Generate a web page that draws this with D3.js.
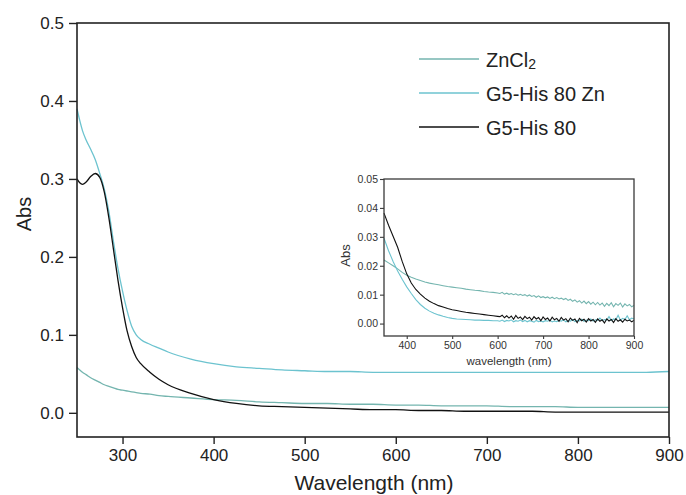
<!DOCTYPE html>
<html>
<head>
<meta charset="utf-8">
<script src="https://cdn.jsdelivr.net/npm/d3@7"></script>
<style>
  body { margin: 0; background: #fff; }
  svg { display: block; font-family: "Liberation Sans", Arial, sans-serif; }
</style>
</head>
<body>
<svg id="chart" width="686" height="495"></svg>
<script>
// colours
const C_ZNCL2 = "#74b5af";
const C_ZN = "#6cc3cf";
const C_HIS = "#111111";

// MAIN PLOT DATA
const mainWl = [250,253,256,260,265,270,275,280,285,290,295,300,305,310,315,320,330,340,350,375,
  400,425,450,475,500,525,550,575,600,625,650,675,700,725,750,775,800,825,850,875,900];
const mainZnCl2 = [.058,.055,.052,.049,.045,.042,.039,.036,.034,.032,.030,.029,.028,.027,.026,.025,.024,.022,.021,.019,
  .017,.016,.014,.013,.012,.012,.011,.011,.010,.010,.009,.009,.009,.008,.008,.008,.007,.007,.007,.007,.007];
const mainZn = [.390,.375,.362,.350,.338,.325,.307,.287,.258,.220,.185,.156,.131,.111,.100,.094,.088,.083,.078,.069,
  .063,.059,.057,.055,.054,.053,.053,.052,.052,.052,.052,.052,.052,.052,.052,.052,.052,.052,.052,.052,.053];
const mainHis = [.300,.295,.293,.296,.303,.307,.302,.283,.250,.210,.170,.135,.105,.085,.071,.063,.052,.043,.036,.025,
  .017,.012,.009,.008,.007,.006,.005,.004,.004,.003,.003,.002,.002,.002,.002,.001,.001,.001,.001,.001,.001];

const xTicks = [300,400,500,600,700,800,900];
const yTicks = [0.0,0.1,0.2,0.3,0.4,0.5];

// INSET DATA
const insetWl = [350,360,370,380,390,400,410,420,430,440,450,460,470,480,490,500,510,520,530,540,550,560,570,580,590,600,
  605,610,615,620,625,630,635,640,645,650,
  655,660,665,670,675,680,685,690,695,700,
  705,710,715,720,725,730,735,740,745,750,
  755,760,765,770,775,780,785,790,795,800,
  805,810,815,820,825,830,835,840,845,850,
  855,860,865,870,875,880,885,890,895,900];
const insetZnCl2 = [.0220,.0210,.0200,.0189,.0177,.0167,.0160,.0154,.0149,.0144,.0140,.0137,.0134,.0131,.0128,.0126,
  .0124,.0122,.0119,.0117,.0115,.0114,.0111,.0109,.0108,.0106,
  .0104,.0108,.0102,.0105,.0101,.0104,.0100,.0103,.0098,.0101,
  .0097,.0100,.0095,.0099,.0094,.0097,.0091,.0096,.0090,.0093,
  .0089,.0092,.0087,.0091,.0086,.0090,.0085,.0088,.0083,.0087,
  .0080,.0084,.0077,.0082,.0074,.0079,.0071,.0078,.0069,.0076,
  .0067,.0074,.0065,.0073,.0064,.0071,.0060,.0070,.0062,.0072,
  .0058,.0069,.0063,.0071,.0057,.0068,.0061,.0066,.0058,.0063];
const insetZn = [.0295,.0252,.0215,.0182,.0153,.0127,.0104,.0083,.0066,.0053,.0043,.0036,.0030,.0025,.0021,.0018,
  .0016,.0015,.0014,.0013,.0012,.0012,.0011,.0011,.0010,.0010,
  .0008,.0012,.0007,.0011,.0009,.0013,.0006,.0010,.0008,.0012,
  .0007,.0011,.0006,.0010,.0008,.0005,.0011,.0007,.0009,.0006,
  .0010,.0008,.0012,.0006,.0009,.0007,.0011,.0008,.0013,.0006,
  .0010,.0008,.0014,.0007,.0011,.0009,.0015,.0008,.0012,.0010,
  .0016,.0009,.0013,.0011,.0019,.0010,.0014,.0012,.0024,.0011,
  .0016,.0013,.0029,.0012,.0018,.0014,.0027,.0013,.0019,.0016];
const insetHis = [.0382,.0340,.0302,.0264,.0215,.0172,.0140,.0118,.0102,.0088,.0077,.0069,.0062,.0057,.0052,.0048,
  .0045,.0042,.0039,.0037,.0035,.0033,.0031,.0029,.0027,.0025,
  .0024,.0029,.0020,.0027,.0019,.0026,.0015,.0028,.0018,.0023,
  .0014,.0025,.0017,.0022,.0012,.0024,.0016,.0021,.0010,.0023,
  .0014,.0019,.0009,.0022,.0013,.0018,.0008,.0021,.0012,.0017,
  .0006,.0019,.0011,.0016,.0003,.0018,.0010,.0015,.0005,.0017,
  .0009,.0014,.0004,.0016,.0008,.0013,.0002,.0016,.0009,.0014,
  .0004,.0017,.0008,.0013,.0005,.0015,.0009,.0012,.0006,.0011];

const insetXTicks = [400,500,600,700,800,900];
const insetYTicks = [0.00,0.01,0.02,0.03,0.04,0.05];

const legendNames = ["ZnCl", "G5-His 80 Zn", "G5-His 80"];
const legendColors = [C_ZNCL2, C_ZN, C_HIS];

let svg = d3.select("#chart");

// MAIN
let m = {left: 77, right: 669, top: 23, bottom: 437};
let x = d3.scaleLinear().domain([250, 900]).range([m.left, m.right]);
let y = d3.scaleLinear().domain([-0.031, 0.5]).range([m.bottom, m.top]);

function toPts(wl, vals) {
	return wl.map((w,i)=>[w, vals[i]]).filter(d=>d[1]!=undefined);
}

let mainLine = d3.line().x(d=>x(d[0])).y(d=>y(d[1])).curve(d3.curveMonotoneX);

let plot = svg.append("g");
[[mainZnCl2, C_ZNCL2], [mainZn, C_ZN], [mainHis, C_HIS]].forEach(s=>{
	plot.append("path")
	.datum(toPts(mainWl, s[0]))
	.attr("d", mainLine)
	.attr("fill", "none")
	.attr("stroke", s[1])
	.attr("stroke-width", 1.3);
});

// frame
svg.append("rect")
.attr("x", m.left).attr("y", m.top)
.attr("width", m.right-m.left).attr("height", m.bottom-m.top)
.attr("fill", "none").attr("stroke", "#222").attr("stroke-width", 1.6);

let xAxis = svg.append("g")
.attr("transform", `translate(0,${m.bottom})`)
.call(d3.axisBottom(x).tickValues(xTicks).tickSize(7).tickPadding(5).tickFormat(d3.format("d")));

let yAxis = svg.append("g")
.attr("transform", `translate(${m.left},0)`)
.call(d3.axisLeft(y).tickValues(yTicks).tickSize(8).tickPadding(5).tickFormat(d3.format(".1f")));

[xAxis, yAxis].forEach(a=>{
	a.select(".domain").remove();
	a.selectAll("line").attr("stroke", "#222").attr("stroke-width", 1.4);
	a.selectAll("text").attr("font-size", 17).attr("fill", "#222").attr("font-family", "Liberation Sans, Arial, sans-serif");
});

svg.append("text")
.attr("x", (m.left+m.right)/2 + 1).attr("y", 490)
.attr("text-anchor", "middle")
.attr("font-size", 21).attr("fill", "#222")
.text("Wavelength (nm)");

svg.append("text")
.attr("transform", "translate(31,214) rotate(-90)")
.attr("text-anchor", "middle")
.attr("font-size", 20).attr("fill", "#222")
.text("Abs");

// LEGEND
let legend = svg.append("g");
legendNames.forEach((name,i)=>{
	let ly = 59 + i*34;
	legend.append("line")
	.attr("x1", 419).attr("x2", 479)
	.attr("y1", ly).attr("y2", ly)
	.attr("stroke", legendColors[i]).attr("stroke-width", 1.3);
	let t = legend.append("text")
	.attr("x", 486).attr("y", ly+8)
	.attr("font-size", 20).attr("fill", "#222")
	.text(name);
	if(i==0) {
		t.append("tspan").attr("font-size", 14).attr("dy", 2).text("2");
	}
});

// INSET
let n = {left: 384, right: 634, top: 179, bottom: 336};
let ix = d3.scaleLinear().domain([350, 900]).range([n.left, n.right]);
let iy = d3.scaleLinear().domain([-0.0043, 0.05]).range([n.bottom, n.top]);
let insetLine = d3.line().x(d=>ix(d[0])).y(d=>iy(d[1]));

let inset = svg.append("g");
[[insetZnCl2, C_ZNCL2], [insetZn, C_ZN], [insetHis, C_HIS]].forEach(s=>{
	inset.append("path")
	.datum(toPts(insetWl, s[0]))
	.attr("d", insetLine)
	.attr("fill", "none")
	.attr("stroke", s[1])
	.attr("stroke-width", 1.1);
});

svg.append("rect")
.attr("x", n.left).attr("y", n.top)
.attr("width", n.right-n.left).attr("height", n.bottom-n.top)
.attr("fill", "none").attr("stroke", "#3a3a3a").attr("stroke-width", 1.3);

let ixAxis = svg.append("g")
.attr("transform", `translate(0,${n.bottom})`)
.call(d3.axisBottom(ix).tickValues(insetXTicks).tickSize(3).tickPadding(3).tickFormat(d3.format("d")));

let iyAxis = svg.append("g")
.attr("transform", `translate(${n.left},0)`)
.call(d3.axisLeft(iy).tickValues(insetYTicks).tickSize(4).tickPadding(2).tickFormat(d3.format(".2f")));

[ixAxis, iyAxis].forEach(a=>{
	a.select(".domain").remove();
	a.selectAll("line").attr("stroke", "#3a3a3a").attr("stroke-width", 1.1);
	a.selectAll("text").attr("font-size", 10.5).attr("fill", "#333").attr("font-family", "Liberation Sans, Arial, sans-serif");
});

svg.append("text")
.attr("x", (n.left+n.right)/2).attr("y", 365)
.attr("text-anchor", "middle")
.attr("font-size", 11.5).attr("fill", "#333")
.text("wavelength (nm)");

svg.append("text")
.attr("transform", `translate(350,${(n.top+n.bottom)/2 - 2}) rotate(-90)`)
.attr("text-anchor", "middle")
.attr("font-size", 13).attr("fill", "#333")
.text("Abs");
</script>
</body>
</html>
